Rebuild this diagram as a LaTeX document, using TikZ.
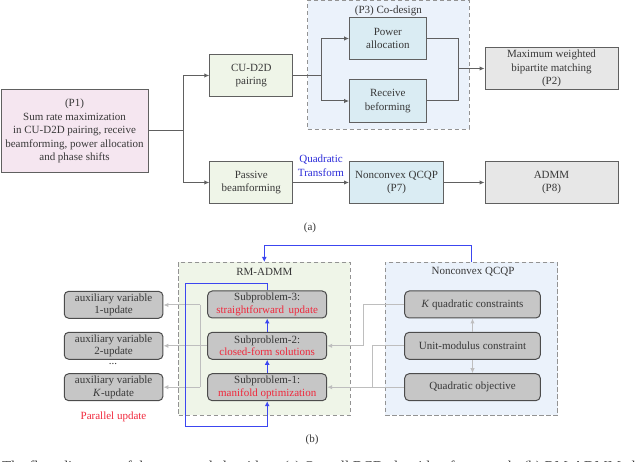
\documentclass[tikz,border=0pt]{standalone}
\usepackage{fontspec}
\setmainfont{Liberation Serif}
\usetikzlibrary{arrows.meta}
\definecolor{lineC}{HTML}{606060}
\definecolor{txtC}{HTML}{383838}
\definecolor{pinkF}{HTML}{F5E6F0}
\definecolor{greenF}{HTML}{EFF5E8}
\definecolor{blueF}{HTML}{DAECF3}
\definecolor{greyF}{HTML}{E7E7E7}
\definecolor{panelB}{HTML}{EBF2FB}
\definecolor{roundF}{HTML}{C6C6C6}
\definecolor{flowB}{HTML}{3C46F0}
\definecolor{flowG}{HTML}{BEBEBE}
\definecolor{redT}{HTML}{F0283C}
\definecolor{blueT}{HTML}{2A2AD8}
\tikzset{
  tx/.style={text=txtC,font=\fontsize{11}{13.4}\selectfont,align=center,inner sep=0pt},
  pbox/.style={tx,draw=lineC,line width=1pt,minimum width=#1,inner sep=0pt},
  panel/.style={draw=gray!85,dash pattern=on 4.5pt off 2.5pt,line width=0.9pt},
  rbox/.style={pbox=#1,draw=black!70,fill=roundF,rounded corners=4.5pt,minimum height=27pt},
  conn/.style={draw=lineC,line width=1pt},
  arr/.style={conn,-{Latex[length=5pt,width=4.5pt]}},
  bflow/.style={draw=flowB,line width=1pt},
  barr/.style={bflow,-{Latex[length=5pt,width=5pt]}},
  gflow/.style={draw=flowG,line width=1pt},
  garr/.style={gflow,-{Latex[length=5pt,width=4.5pt]}}
}
\begin{document}
\begin{tikzpicture}[x=1pt,y=-1pt]
\useasboundingbox (0,0) rectangle (640,462);
\clip (0,0) rectangle (640,462);
% panels
\node[panel,fill=panelB,minimum width=161.5pt,minimum height=128.5pt,inner sep=0pt] (codesign) at (388.25,64.75) {};
\node[panel,fill=greenF,minimum width=171.8pt,minimum height=153.3pt,inner sep=0pt] (rmadmm) at (264.4,338.65) {};
\node[panel,fill=panelB,minimum width=172.4pt,minimum height=153.3pt,inner sep=0pt] (qcqp) at (471.5,338.65) {};
\node[tx] (tcodesign) at (388.3,10.5) {(P3) Co-design};
\node[tx] (trm) at (264.4,271.8) {RM-ADMM};
\node[tx] (tq) at (473,271.8) {Nonconvex QCQP};
% top boxes
\node[pbox=147pt,fill=pinkF,minimum height=83.5pt] (p1) at (74.5,131) {(P1)\\Sum rate maximization\\in CU-D2D pairing, receive\\beamforming, power allocation\\and phase shifts};
\node[pbox=83pt,fill=greenF,minimum height=42.5pt] (cu) at (251.3,75.5) {CU-D2D\\pairing};
\node[pbox=83pt,fill=greenF,minimum height=42.5pt] (pb) at (251.3,182.5) {Passive\\beamforming};
\node[pbox=76.5pt,fill=blueF,minimum height=42.5pt] (pa) at (387.8,38.5) {Power\\allocation};
\node[pbox=76.5pt,fill=blueF,minimum height=42.5pt] (rb) at (387.8,101) {Receive\\beforming};
\node[pbox=133pt,fill=greyF,minimum height=42.5pt] (p2) at (551.5,68.5) {Maximum weighted\\bipartite matching\\(P2)};
\node[pbox=94pt,fill=blueF,minimum height=42.5pt] (p7) at (396.5,182.5) {Nonconvex QCQP\\(P7)};
\node[pbox=133pt,fill=greyF,minimum height=42.5pt] (p8) at (551.5,182.5) {ADMM\\(P8)};
\coordinate (j1) at (183,131);
\coordinate (j2) at (321,75.5);
\coordinate (j3) at (458.5,68.5);
\draw[conn] (p1.east) -- (j1);
\draw[arr] (j1) |- (cu.west);
\draw[arr] (j1) |- (pb.west);
\draw[conn] (cu.east) -- (j2);
\draw[arr] (j2) |- (pa.west);
\draw[arr] (j2) |- (rb.west);
\draw[conn] (pa.east) -| (j3);
\draw[conn] (rb.east) -| (j3);
\draw[arr] (j3) -- (p2.west);
\draw[arr] (pb.east) -- (p7.west);
\draw[arr] (p7.east) -- (p8.west);
\node[tx,text=blueT] (qt) at (321,165.8) {Quadratic\\Transform};
\node[tx] (capa) at (310,228) {(a)};
% bottom boxes
\node[rbox=119pt] (s3) at (267.2,304.5) {Subproblem-3:\\[-1pt]\textcolor{redT}{straightforward\, update}};
\node[rbox=119pt] (s2) at (267.2,345.8) {Subproblem-2:\\[-1pt]\textcolor{redT}{closed-form solutions}};
\node[rbox=119pt] (s1) at (267.2,387.2) {Subproblem-1:\\[-1pt]\textcolor{redT}{manifold optimization}};
\node[rbox=98.7pt] (a1) at (113.6,304.8) {auxiliary variable\\[-1pt]1-update};
\node[rbox=98.7pt] (a2) at (113.6,345.8) {auxiliary variable\\[-1pt]2-update};
\node[rbox=98.7pt] (ak) at (113.6,387.2) {auxiliary variable\\[-1pt]\textit{K}-update};
\node[rbox=135.6pt] (kq) at (472.5,304.5) {\textit{K} quadratic constraints};
\node[rbox=135.6pt] (um) at (472.5,345.8) {Unit-modulus constraint};
\node[rbox=135.6pt] (qo) at (472.5,387.2) {Quadratic objective};
\node[tx] (dots) at (113,364) {...};
\node[tx,text=redT] (par) at (113.5,417) {Parallel update};
\node[tx] (capb) at (312,440) {(b)};
% grey flow
\coordinate (g1) at (200,305);
\coordinate (g2) at (200,387.2);
\draw[garr] (s2.west) -- (a2.east);
\draw[gflow] (g1) -- (g2);
\draw[garr] (g1) -- (g1-|a1.east);
\draw[garr] (g2) -- (g2-|ak.east);
\coordinate (g3) at (363.7,345.8);
\coordinate (g4) at (372.7,387.2);
\draw[garr] (kq.west) -| (g3) -- (s2.east);
\draw[gflow] (um.west) -| (g4);
\draw[garr] (qo.west) -- (s1.east);
\draw[garr] (um) -- (kq);
\draw[garr] (um) -- (qo);
% blue flow
\coordinate (bt) at (471.7,245.3);
\coordinate (qtop) at (471.7,262);
\coordinate (rtop) at (264.3,262);
\coordinate (l1) at (185.3,283.3);
\coordinate (l2) at (185.3,426);
\draw[barr] (qtop) -- (bt) -| (rtop);
\draw[barr] (s1) -- (s2);
\draw[barr] (s2) -- (s3);
\draw[barr] (s3.north) |- (l1) -- (l2) -| (s1.south);
% caption, cut by the image edge
\node[tx,anchor=base west,font=\fontsize{15}{17}\selectfont] (cap) at (2,471.5) {The flow diagrams of the proposed algorithm: (a) Overall BCD algorithm framework; (b) RM-ADMM algorithm};
\end{tikzpicture}
\end{document}
